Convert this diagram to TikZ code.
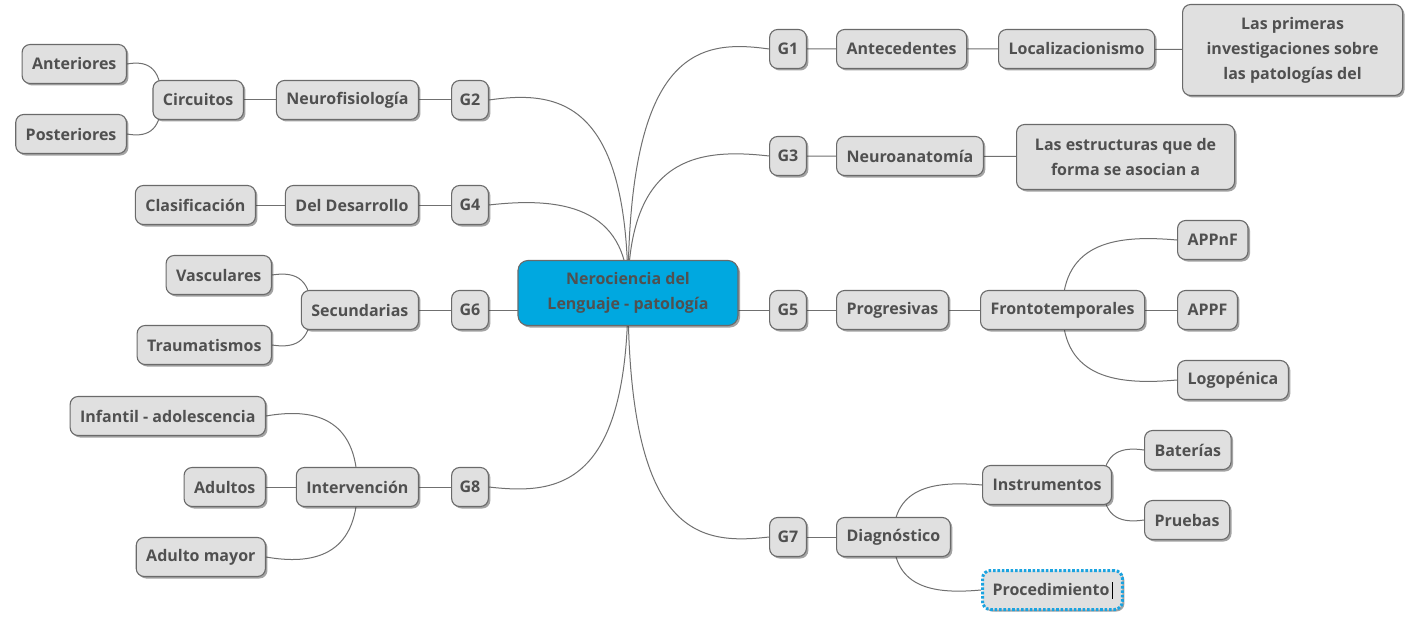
\documentclass[tikz,border=0pt]{standalone}
\usepackage{fontspec}
\setmainfont{Open Sans}
\usetikzlibrary{shadows,backgrounds,calc}
\definecolor{boxfill}{HTML}{E0E0E0}
\definecolor{boxdraw}{HTML}{6A6A6A}
\definecolor{txt}{HTML}{505050}
\definecolor{ctrfill}{HTML}{00A8E0}
\definecolor{linec}{HTML}{707070}
\definecolor{selblue}{HTML}{1AA3E0}
\newcommand{\branch}[3]{\draw[conn] (#1) .. controls (#1 |- #2) and ($(#1 |- #2)!0.5!(#2)+(0,#3)$) .. (#2);}
\begin{document}
\begin{tikzpicture}[x=1pt,y=-1pt,
  topic/.style={draw=boxdraw, line width=1.1pt, fill=boxfill, rounded corners=8pt,
    minimum height=39pt, inner xsep=10pt, text=txt,
    font=\bfseries\fontsize{16}{25}\selectfont,
    drop shadow={shadow xshift=2pt,shadow yshift=-2pt,opacity=0.45,fill=black!80}},
  rt/.style={topic, anchor=west},
  lt/.style={topic, anchor=east},
  conn/.style={draw=linec, line width=1pt},
]
% central topic
\node[topic, fill=ctrfill, minimum width=220pt, minimum height=65pt, rounded corners=10pt, align=center] (c) at (628,293) {Nerociencia del\\Lenguaje - patología};

% right side
\node[topic, inner xsep=8pt] (g1) at (788,49) {G1};
\node[rt] (ante) at (836,49) {Antecedentes};
\node[rt] (loc) at (998,49) {Localizacionismo};
\node[rt, align=center, minimum width=220pt, minimum height=91pt] (prim) at (1182,50) {Las primeras\\investigaciones sobre\\las patologías del};

\node[topic, inner xsep=8pt] (g3) at (788,156) {G3};
\node[rt] (neuro) at (836,156) {Neuroanatomía};
\node[rt, align=center, minimum width=218pt, minimum height=65pt] (estr) at (1016,157) {Las estructuras que de\\forma se asocian a};

\node[topic, inner xsep=8pt] (g5) at (788,310) {G5};
\node[rt] (prog) at (836,310) {Progresivas};
\node[rt] (fronto) at (980,310) {Frontotemporales};
\node[rt] (appnf) at (1177,240) {APPnF};
\node[rt] (appf) at (1177,310) {APPF};
\node[rt] (logo) at (1177,380) {Logopénica};

\node[topic, inner xsep=8pt] (g7) at (788,537) {G7};
\node[rt] (diag) at (836,537) {Diagnóstico};
\node[rt] (instr) at (982,485) {Instrumentos};
\node[rt] (bat) at (1144,450) {Baterías};
\node[rt] (prue) at (1144,520) {Pruebas};
\node[rt, draw=selblue, line width=3pt, dash pattern=on 2.6pt off 1.8pt] (proc) at (981,590) {Procedimiento\hspace{2pt}\textcolor{black}{\rule[-3pt]{0.9pt}{17pt}}};

% left side
\node[topic, inner xsep=8pt] (g2) at (470,100) {G2};
\node[lt] (nfis) at (419,100) {Neurofisiología};
\node[lt] (circ) at (244,100) {Circuitos};
\node[lt] (ant) at (127,64) {Anteriores};
\node[lt] (post) at (127,134) {Posteriores};

\node[topic, inner xsep=8pt] (g4) at (470,205) {G4};
\node[lt] (desa) at (419,205) {Del Desarrollo};
\node[lt] (clas) at (256,205) {Clasificación};

\node[topic, inner xsep=8pt] (g6) at (470,310) {G6};
\node[lt] (secu) at (419,310) {Secundarias};
\node[lt] (vasc) at (272,275) {Vasculares};
\node[lt] (trau) at (272,345) {Traumatismos};

\node[topic, inner xsep=8pt] (g8) at (470,487) {G8};
\node[lt] (inte) at (419,487) {Intervención};
\node[lt] (infa) at (266,416) {Infantil - adolescencia};
\node[lt] (adul) at (266,487) {Adultos};
\node[lt] (amay) at (266,557) {Adulto mayor};

% hidden branch origins
\coordinate (circS) at ($(circ.west)+(9,0)$);
\coordinate (secuS) at ($(secu.west)+(10,0)$);
\coordinate (instrS) at ($(instr.east)+(-9,0)$);

\begin{scope}[on background layer]
\fill[white] (0,0) rectangle (1412,623);
% main branches
\branch{c.center}{g1.west}{-10}
\branch{c.center}{g3.west}{-8}
\branch{c.center}{g7.west}{8}
\branch{c.center}{g2.east}{-10}
\branch{c.center}{g4.east}{-8}
\branch{c.center}{g8.east}{8}
\draw[conn] (c.center |- g5) -- (g5);
\draw[conn] (c.center |- g6) -- (g6);
% straight links
\draw[conn] (g1) -- (ante) -- (loc) -- (prim);
\draw[conn] (g3) -- (neuro) -- (estr);
\draw[conn] (g5) -- (prog) -- (fronto) -- (appf);
\draw[conn] (g7) -- (diag);
\draw[conn] (g2) -- (nfis) -- (circ);
\draw[conn] (g4) -- (desa) -- (clas);
\draw[conn] (g6) -- (secu);
\draw[conn] (g8) -- (inte) -- (adul);
% curved sub-branches
\branch{fronto.center}{appnf.west}{-5}
\branch{fronto.center}{logo.west}{5}
\branch{diag.center}{instr.west}{-4}
\branch{diag.center}{proc.west}{4}
\branch{instrS}{bat.west}{-3}
\branch{instrS}{prue.west}{3}
\branch{circS}{ant.east}{-3}
\branch{circS}{post.east}{3}
\branch{secuS}{vasc.east}{-3}
\branch{secuS}{trau.east}{3}
\branch{inte.center}{infa.east}{-8}
\branch{inte.center}{amay.east}{8}
\end{scope}
\useasboundingbox (0,0) rectangle (1412,623);
\end{tikzpicture}
\end{document}
